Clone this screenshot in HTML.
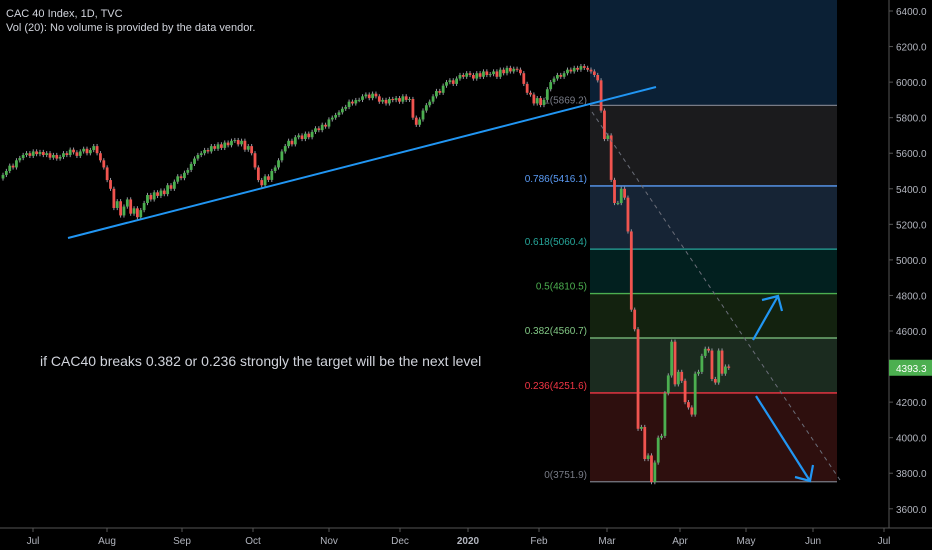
<!DOCTYPE html>
<html><head><meta charset="utf-8"><style>
body{margin:0;background:#000;}
svg{display:block;font-family:"Liberation Sans",sans-serif;}
</style></head><body>
<svg id="c" width="932" height="550" viewBox="0 0 932 550">
<rect width="932" height="550" fill="#000"/>
<g id="fib"></g>
<g id="candles"></g>
<g id="draw"></g>
<g id="axes"></g>
<text x="6" y="17" fill="#d1d4dc" font-size="11">CAC 40 Index, 1D, TVC</text>
<text x="6" y="31" fill="#d1d4dc" font-size="11">Vol (20): No volume is provided by the data vendor.</text>
<text x="40" y="366" fill="#d1d4dc" font-size="14">if CAC40 breaks 0.382 or 0.236 strongly the target will be the next level</text>
</svg>
<script>
const closes=[5478,5500,5530,5520,5560,5573,5590,5600,5585,5610,5595,5607,5590,5600,5575,5590,5570,5579,5600,5590,5620,5605,5585,5610,5625,5600,5618,5640,5600,5560,5520,5449,5400,5292,5330,5250,5300,5340,5260,5290,5240,5280,5320,5365,5340,5380,5360,5390,5370,5420,5400,5440,5470,5460,5490,5506,5540,5570,5590,5600,5618,5610,5640,5625,5650,5630,5660,5645,5670,5674,5650,5670,5620,5640,5600,5520,5449,5420,5470,5450,5500,5520,5560,5610,5640,5670,5650,5690,5700,5680,5710,5690,5720,5740,5730,5760,5750,5790,5800,5815,5830,5850,5860,5890,5880,5899,5900,5920,5930,5910,5935,5920,5890,5900,5880,5905,5899,5910,5890,5920,5900,5905,5800,5760,5790,5840,5870,5890,5920,5950,5940,5980,6000,6010,5990,6020,6040,6030,6050,6040,6020,6050,6030,6060,6040,6045,6060,6030,6070,6050,6080,6060,6075,6070,6050,5990,5940,5930,5880,5910,5871,5900,5960,6000,6020,6040,6030,6050,6070,6060,6080,6070,6090,6080,6070,6060,6040,6010,5840,5680,5700,5450,5320,5320,5400,5350,5160,4720,4610,4050,4060,3880,3900,3750,3860,4000,4010,4250,4350,4540,4300,4370,4320,4200,4170,4130,4360,4370,4460,4500,4490,4330,4310,4490,4360,4400,4393];
const fibLevels=[1,0.786,0.618,0.5,0.382,0.236,0];
const fibPrices=[5869.2,5416.1,5060.4,4810.5,4560.7,4251.6,3751.9];
const priceTicks=[6400,6200,6000,5800,5600,5400,5200,5000,4800,4600,4400,4200,4000,3800,3600];
const monthLabels=["Jul","Aug","Sep","Oct","Nov","Dec","2020","Feb","Mar","Apr","May","Jun","Jul"];
const monthX=[33,107,182,253,329,400,468,539,607,680,746,813,884];
const lastPrice=4393.3;
const NS="http://www.w3.org/2000/svg";
const y=p=>11+(6400-p)*0.17778;
const x=i=>3+i*3.36;
function mk(t,a,parent){const e=document.createElementNS(NS,t);for(const k in a)e.setAttribute(k,a[k]);parent.appendChild(e);return e;}
const fib=document.getElementById('fib'),cg=document.getElementById('candles'),dg=document.getElementById('draw'),ax=document.getElementById('axes');
const zoneCol=["#1b1b1d","#162435","#02201f","#13220f","#1b2b1f","#2e0f0e"];
const lineCol=["#787b86","#5b9cf6","#26a69a","#4caf50","#81c784","#f23645","#787b86"];
const fx0=590,fx1=837;
let r=mk('rect',{x:fx0,y:0,width:fx1-fx0,height:y(fibPrices[0]),fill:"#0b2035"},fib);

for(let k=0;k<fibPrices.length-1;k++){
 const e=mk('rect',{x:fx0,y:y(fibPrices[k]),width:fx1-fx0,height:y(fibPrices[k+1])-y(fibPrices[k]),fill:zoneCol[k]},fib);
 
}
for(let k=0;k<fibPrices.length;k++){
 const l=mk('line',{x1:fx0,x2:fx1,y1:y(fibPrices[k]),y2:y(fibPrices[k]),stroke:lineCol[k],'stroke-width':1.3},fib);
 
 const t=mk('text',{x:587,y:y(fibPrices[k])+(k===0?-2:-4),fill:lineCol[k],'font-size':10,'text-anchor':'end'},fib);
 t.textContent=fibLevels[k]+"("+fibPrices[k].toFixed(1)+")";
 
}
for(let i=0;i<closes.length;i++){
 const o=i?closes[i-1]:closes[0]-20,c=closes[i];
 const up=c>=o,col=up?"#4caf50":"#f0544f";
 const hi=Math.max(o,c)+12,lo=Math.min(o,c)-12;
 const w=mk('line',{x1:x(i),x2:x(i),y1:y(hi),y2:y(lo),stroke:"#9598a1",'stroke-width':1},cg);
 
 const b=mk('rect',{x:x(i)-1.4,y:y(Math.max(o,c)),width:2.8,height:Math.max(1,Math.abs(y(o)-y(c))),fill:col},cg);
 
}
let e;
e=mk('line',{x1:68,y1:238,x2:656,y2:87,stroke:"#2196f3",'stroke-width':2},dg);
e=mk('line',{x1:592,y1:112,x2:840,y2:480,stroke:"#6a6d78",'stroke-width':1,'stroke-dasharray':'4 4'},dg);
e=mk('path',{d:"M753 340 L778 296 M762 300 L778 296 L782 311",stroke:"#2196f3",'stroke-width':2.2,fill:"none"},dg);
e=mk('path',{d:"M756 396 L810 481 M795 477 L810 481 L813 465",stroke:"#2196f3",'stroke-width':2.2,fill:"none"},dg);
e=mk('line',{x1:889,x2:889,y1:0,y2:528,stroke:"#555",'stroke-width':1},ax);
e=mk('line',{x1:0,x2:932,y1:528,y2:528,stroke:"#555",'stroke-width':1},ax);
priceTicks.forEach(p=>{
 const t=mk('text',{x:896,y:y(p)+4,fill:"#b2b5be",'font-size':10},ax);t.textContent=p.toFixed(1);
 
 const m=mk('line',{x1:889,x2:893,y1:y(p),y2:y(p),stroke:"#555"},ax);
});
monthLabels.forEach((m,k)=>{
 const t=mk('text',{x:monthX[k],y:544,fill:"#b2b5be",'font-size':10,'text-anchor':'middle','font-weight':m==="2020"?"bold":"normal"},ax);t.textContent=m;
 
 const l=mk('line',{x1:monthX[k],x2:monthX[k],y1:528,y2:532,stroke:"#555"},ax);
});
e=mk('rect',{x:889,y:y(lastPrice)-8,width:43,height:16,fill:"#4caf50"},ax);
e=mk('text',{x:896,y:y(lastPrice)+4,fill:"#fff",'font-size':10},ax);e.textContent=lastPrice.toFixed(1);
</script>
</body></html>
